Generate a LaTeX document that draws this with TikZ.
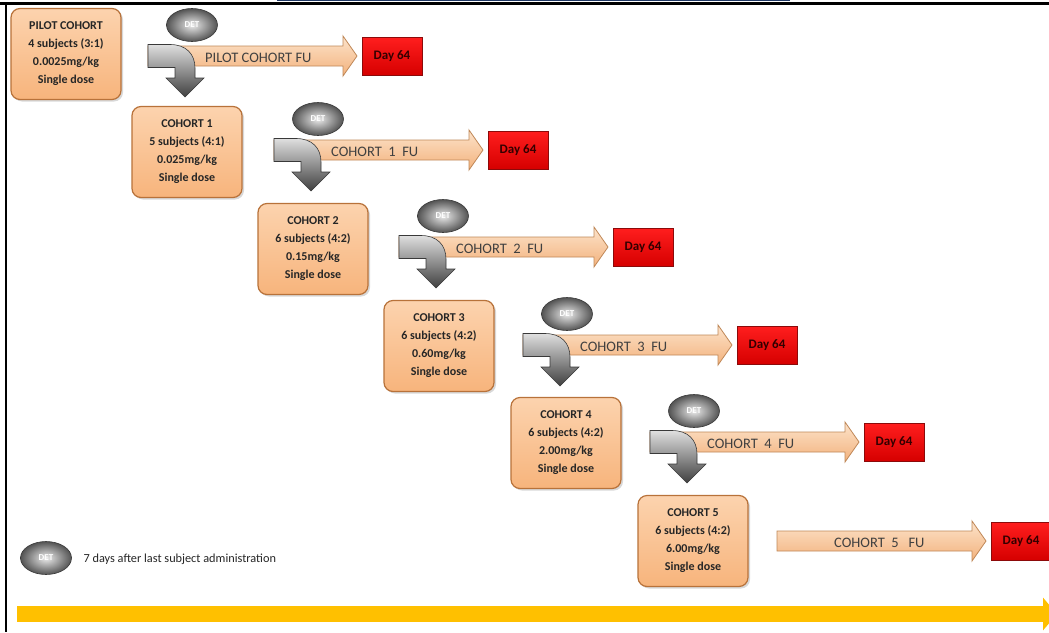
\documentclass[tikz,border=0pt]{standalone}
\usepackage{fontspec}
\setmainfont{Carlito}
\usetikzlibrary{shapes.geometric,shadows,arrows.meta}
\definecolor{peachtop}{HTML}{FCD3AE}
\definecolor{peachbot}{HTML}{F7B47C}
\definecolor{peachedge}{HTML}{B8723A}
\definecolor{arrtop}{HTML}{FCE3CB}
\definecolor{arrbot}{HTML}{F3B27C}
\definecolor{arredge}{HTML}{C08858}
\definecolor{redtop}{HTML}{FF1E1E}
\definecolor{redbot}{HTML}{D60000}
\definecolor{rededge}{HTML}{8C0A0A}
\definecolor{goldbar}{HTML}{FFC000}
\definecolor{navyline}{HTML}{1F3864}
\definecolor{futext}{HTML}{404040}
\tikzset{
 cohortbox/.style={rectangle, rounded corners=9pt, minimum width=110pt, minimum height=91pt,
   top color=peachtop, bottom color=peachbot, draw=peachedge, line width=1.2pt, align=center,
   font=\fontsize{12}{18}\selectfont\bfseries, text=black!85,
   drop shadow={opacity=0.3, shadow xshift=2pt, shadow yshift=-2pt}},
 daybox/.style={rectangle, minimum width=60pt, minimum height=38pt, inner sep=0pt,
   top color=redtop, bottom color=redbot, draw=rededge, line width=1pt,
   font=\fontsize{13}{15}\selectfont\bfseries, text=black!80!red},
 detnode/.style={ellipse, minimum width=51pt, minimum height=33pt, inner sep=0pt,
   inner color=gray!15, outer color=gray!65!black, draw=gray!45!black, line width=0.6pt,
   font=\fontsize{9}{10}\selectfont\bfseries, text=white},
 fuarrow/.style={top color=arrtop, bottom color=arrbot, draw=arredge, line width=0.8pt},
 fulabel/.style={font=\fontsize{14.5}{16}\selectfont, text=futext, inner sep=0pt, anchor=west},
 bentarrow/.style={top color=gray!25, bottom color=gray!50!black, draw=gray!45!black, line width=0.6pt},
}
% #1 name, #2 x0, #3 yc, #4 label
\newcommand\fustage[4]{%
 \begin{scope}[shift={(#2,#3)}]
  \path[fuarrow] (0,-10) -- (195,-10) -- (195,-20) -- (209,0) -- (195,20) -- (195,10) -- (0,10) -- cycle;
  \node[fulabel] (fu#1) at (57,2) {#4};
  \node[daybox] (day#1) at (244,0) {Day 64};
 \end{scope}}
% #1 name, #2 x0, #3 yc
\newcommand\bentstage[3]{%
 \begin{scope}[shift={(#2,#3)}]
  \path[bentarrow] (0,-11.5) -- (22,-11.5) .. controls (38,-11.5) and (47,-2) .. (47,12)
    -- (47,22) -- (56,22) -- (37,41) -- (18,22) -- (27,22) -- (27,11.5) -- (0,11.5) -- cycle;
  \node[detnode] (det#1) at (44,-31) {DET};
 \end{scope}}
\begin{document}
\begin{tikzpicture}[x=1pt,y=-1pt]
\useasboundingbox (0,0) rectangle (1049,632);
\fill[white] (0,0) rectangle (1049,632);
% frame
\draw[navyline, line width=1.2pt] (277,0.6) -- (790,0.6);
\draw[line width=2.5pt] (0,3.5) -- (1049,3.5);
\draw[line width=2pt] (5.5,3.5) -- (5.5,632);
% stages
\fustage{p}{148}{56}{PILOT COHORT FU}
\bentstage{p}{148}{56}
\fustage{a}{274}{150}{COHORT\ \ 1\ \ FU}
\bentstage{a}{274}{150}
\fustage{b}{399}{247}{COHORT\ \ 2\ \ FU}
\bentstage{b}{399}{247}
\fustage{c}{523}{345}{COHORT\ \ 3\ \ FU}
\bentstage{c}{523}{345}
\fustage{d}{650}{442}{COHORT\ \ 4\ \ FU}
\bentstage{d}{650}{442}
\fustage{e}{777}{541}{COHORT\ \ 5\ \ \ FU}
% cohort boxes
\node[cohortbox] (pilot) at (66,54) {PILOT COHORT\\4 subjects (3:1)\\0.0025mg/kg\\Single dose};
\node[cohortbox] (c1) at (187,152) {COHORT 1\\5 subjects (4:1)\\0.025mg/kg\\Single dose};
\node[cohortbox] (c2) at (313,249) {COHORT 2\\6 subjects (4:2)\\0.15mg/kg\\Single dose};
\node[cohortbox] (c3) at (439,346) {COHORT 3\\6 subjects (4:2)\\0.60mg/kg\\Single dose};
\node[cohortbox] (c4) at (566,443) {COHORT 4\\6 subjects (4:2)\\2.00mg/kg\\Single dose};
\node[cohortbox] (c5) at (693,541) {COHORT 5\\6 subjects (4:2)\\6.00mg/kg\\Single dose};
% legend
\node[detnode] (detkey) at (46,558) {DET};
\node[anchor=west, font=\fontsize{12.3}{14}\selectfont, text=black!85] (keytext) at (80,559) {7 days after last subject administration};
% timeline
\coordinate (tlstart) at (17,614);
\coordinate (tlend) at (1057,614);
\draw[goldbar, line width=16pt, -{Triangle[width=32pt,length=14pt]}] (tlstart) -- (tlend);
\end{tikzpicture}
\end{document}
